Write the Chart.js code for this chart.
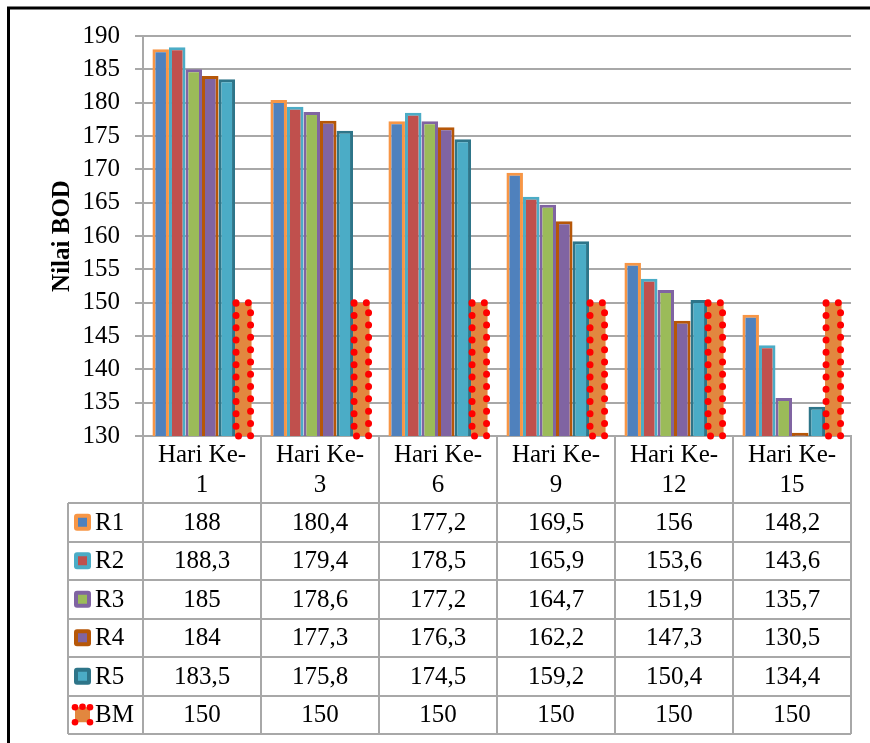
<!DOCTYPE html>
<html>
<head>
  <title>Nilai BOD</title>
  <script src="https://cdn.jsdelivr.net/npm/chart.js@4.4.0/dist/chart.umd.min.js"></script>
  <style>
    body { margin: 0; background: #fff; }
  </style>
</head>
<body>
  <canvas id="bodChart" width="870" height="743"></canvas>

<script>
var days = ['1', '3', '6', '9', '12', '15'];
var seriesNames = ['R1', 'R2', 'R3', 'R4', 'R5', 'BM'];
var r1 = [188, 180.4, 177.2, 169.5, 156, 148.2];
var r2 = [188.3, 179.4, 178.5, 165.9, 153.6, 143.6];
var r3 = [185, 178.6, 177.2, 164.7, 151.9, 135.7];
var r4 = [184, 177.3, 176.3, 162.2, 147.3, 130.5];
var r5 = [183.5, 175.8, 174.5, 159.2, 150.4, 134.4];
var bm = [150, 150, 150, 150, 150, 150];
var yTicks = { min: 130, max: 190, step: 5 };

var fills = ['#4F81BD', '#C0504D', '#9BBB59', '#8064A2', '#4BACC6', '#E2873F'];
var borders = ['#F79646', '#4BACC6', '#8064A2', '#B65708', '#2E7589', '#FF0000'];
var allSeries = [r1, r2, r3, r4, r5, bm];

var serif = '"Liberation Serif", "Times New Roman", serif';
Chart.defaults.font.family = serif;
Chart.defaults.color = '#000';

var gridGrey = '#A8A8A8';
var tableTop = 503;
var rowH = 38.5;
var tableLeft = 68;

function fmt(v) {
  return String(v).replace('.', ',');
}

// dotted red outline for the BM bars
var dottedBars = {
  id: 'dottedBars',
  afterDatasetsDraw: function(chart) {
    var ctx = chart.ctx;
    var meta = chart.getDatasetMeta(5);
    var floor = chart.chartArea.bottom;
    ctx.save();
    ctx.strokeStyle = '#FF0000';
    ctx.lineWidth = 7;
    ctx.lineCap = 'round';
    ctx.setLineDash([0, 12.3]);
    meta.data.forEach(function(bar) {
      var p = bar.getProps(['x', 'y', 'base', 'width'], true);
      var base = Math.min(p.base, floor);
      ctx.strokeRect(p.x - p.width / 2 + 1, p.y, p.width - 2, base - p.y);
    });
    ctx.restore();
  }
};

// data table under the plot + outer frame
var dataTable = {
  id: 'dataTable',
  afterDraw: function(chart) {
    var ctx = chart.ctx;
    var xs = chart.scales.x;
    var n = days.length;
    var colW = (xs.right - xs.left) / n;
    var bottom = tableTop + rowH * seriesNames.length;

    ctx.save();
    ctx.strokeStyle = gridGrey;
    ctx.lineWidth = 2;

    // horizontal lines
    for (var r = 0; r <= seriesNames.length; r++) {
      var y = Math.round(tableTop + r * rowH);
      ctx.beginPath();
      ctx.moveTo(tableLeft, y);
      ctx.lineTo(xs.right, y);
      ctx.stroke();
    }
    // vertical lines
    ctx.beginPath();
    ctx.moveTo(tableLeft, tableTop);
    ctx.lineTo(tableLeft, bottom);
    ctx.moveTo(xs.left, xs.top);
    ctx.lineTo(xs.left, bottom);
    for (var c = 1; c <= n; c++) {
      var x = Math.round(xs.left + c * colW);
      ctx.moveTo(x, xs.top);
      ctx.lineTo(x, bottom);
    }
    ctx.stroke();

    // row headers with legend keys
    ctx.font = '25px ' + serif;
    ctx.textBaseline = 'middle';
    for (var i = 0; i < seriesNames.length; i++) {
      var cy = tableTop + i * rowH + rowH / 2;
      if (i < 5) {
        ctx.fillStyle = borders[i];
        ctx.beginPath();
        ctx.roundRect(74, cy - 8.5, 17, 17, 3);
        ctx.fill();
        ctx.fillStyle = fills[i];
        ctx.fillRect(78, cy - 4.5, 9, 9);
      } else {
        ctx.fillStyle = fills[5];
        ctx.fillRect(75, cy - 7.5, 15, 15);
        ctx.fillStyle = '#FF0000';
        [[75, cy - 7.5], [90, cy - 7.5], [75, cy + 7.5], [90, cy + 7.5], [82.5, cy - 8]].forEach(function(d) {
          ctx.beginPath();
          ctx.arc(d[0], d[1], 3.3, 0, Math.PI * 2);
          ctx.fill();
        });
      }
      ctx.fillStyle = '#000';
      ctx.textAlign = 'left';
      ctx.fillText(seriesNames[i], 95, cy + 1);

      ctx.textAlign = 'center';
      for (var j = 0; j < n; j++) {
        ctx.fillText(fmt(allSeries[i][j]), xs.left + (j + 0.5) * colW, cy + 1);
      }
    }

    // outer frame (left and top only are inside the picture)
    ctx.strokeStyle = '#000';
    ctx.lineWidth = 3;
    ctx.beginPath();
    ctx.moveTo(8.5, 743);
    ctx.lineTo(8.5, 8);
    ctx.lineTo(870, 8);
    ctx.stroke();
    ctx.restore();
  }
};

var datasets = seriesNames.map(function(name, i) {
  return {
    label: name,
    data: allSeries[i],
    backgroundColor: fills[i],
    borderColor: borders[i],
    borderWidth: i < 5 ? 3 : 0,
    borderSkipped: false
  };
});

new Chart(document.getElementById('bodChart').getContext('2d'), {
  type: 'bar',
  data: {
    labels: days.map(function(d) { return ['Hari Ke-', d]; }),
    datasets: datasets
  },
  options: {
    responsive: false,
    animation: false,
    layout: { padding: { left: 8, right: 19, top: 36, bottom: 0 } },
    datasets: { bar: { categoryPercentage: 0.84, barPercentage: 1.0 } },
    plugins: { legend: { display: false }, tooltip: { enabled: false } },
    scales: {
      x: {
        grid: { display: false, drawTicks: false },
        border: { color: gridGrey, width: 2 },
        ticks: { font: { size: 25, lineHeight: 1.2 }, padding: 4, maxRotation: 0, autoSkip: false },
        afterFit: function(s) { s.height = 307; }
      },
      y: {
        min: yTicks.min,
        max: yTicks.max,
        ticks: { stepSize: yTicks.step, font: { size: 25 }, padding: 15 },
        grid: { color: gridGrey, lineWidth: 2, tickLength: 8 },
        border: { color: gridGrey, width: 2 },
        title: { display: true, text: 'Nilai BOD', font: { size: 25, weight: 'bold' }, padding: { top: 40, bottom: 0 } },
        afterFit: function(s) { s.width = 135; }
      }
    }
  },
  plugins: [dottedBars, dataTable]
});
</script>
</body>
</html>
